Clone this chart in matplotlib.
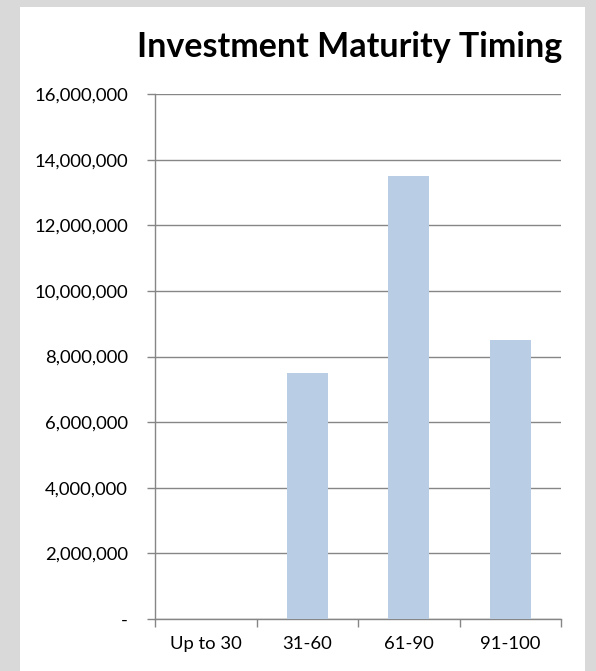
import matplotlib
matplotlib.use("Agg")
import matplotlib.pyplot as plt
from matplotlib.patches import Rectangle
from matplotlib.ticker import FuncFormatter, FixedLocator
import numpy as np

categories = ["Up to 30", "31-60", "61-90", "91-100"]
amounts = [0, 7500000, 13500000, 8500000]
y_ticks = [0, 2000000, 4000000, 6000000, 8000000, 10000000, 12000000, 14000000, 16000000]

W, H = 596, 671
fig = plt.figure(figsize=(W / 100, H / 100), dpi=100)
fig.patch.set_facecolor("#d9d9d9")
fig.patches.append(Rectangle((20 / W, 0), (585 - 20) / W, (H - 7) / H,
                             transform=fig.transFigure, facecolor="white",
                             edgecolor="none", zorder=-5))

ax = fig.add_axes([155 / W, 1 - 619 / H, (561 - 155) / W, (619 - 94) / H])
ax.set_facecolor("none")

grid_c = "#868686"
x = np.arange(len(categories))
ax.bar(x, amounts, width=0.4, color="#b9cde5", zorder=3)

ax.set_xlim(-0.5, len(categories) - 0.5)
ax.set_ylim(0, 16000000)
ax.set_yticks(y_ticks)
ax.yaxis.set_major_formatter(FuncFormatter(lambda v, p: "-" if v == 0 else f"{int(v):,}"))
ax.yaxis.grid(True, color=grid_c, linewidth=1.0, zorder=1)
ax.set_axisbelow(True)

ax.set_xticks(x)
ax.set_xticklabels(categories)
ax.xaxis.set_minor_locator(FixedLocator(np.arange(-0.5, len(categories), 1.0)))
ax.tick_params(axis="x", which="major", length=0, pad=12)
ax.tick_params(axis="x", which="minor", length=6, color=grid_c, width=1.0, direction="out")
ax.tick_params(axis="y", length=6, color=grid_c, width=1.0, pad=13.5)

for lab in ax.get_xticklabels() + ax.get_yticklabels():
    lab.set_fontfamily("Lato")
    lab.set_fontsize(13.3)
    lab.set_color("black")

for s in ["top", "right"]:
    ax.spines[s].set_visible(False)
for s in ["left", "bottom"]:
    ax.spines[s].set_color(grid_c)
    ax.spines[s].set_linewidth(1.0)

fig.text(350 / W, 1 - 57 / H, "Investment Maturity Timing", ha="center", va="baseline",
         fontsize=24.5, fontweight="bold", fontfamily="Lato", color="black")

fig.savefig("out.png", dpi=100, facecolor=fig.get_facecolor())
